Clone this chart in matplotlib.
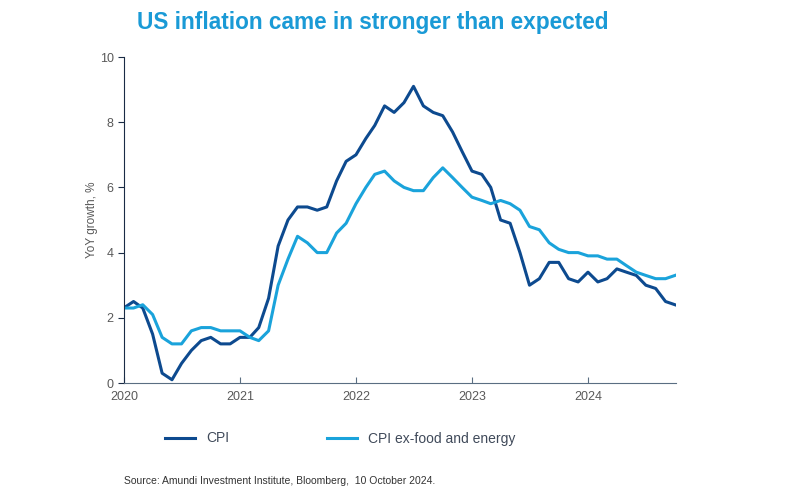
import numpy as np
import pandas as pd
import matplotlib
matplotlib.use('Agg')
import matplotlib.pyplot as plt
import matplotlib.dates as mdates

plt.rcParams['font.family'] = ['Liberation Sans', 'DejaVu Sans']

# monthly YoY, Dec 2019 .. Sep 2024
dates = pd.date_range('2019-12-31', '2024-09-30', freq='ME')
cpi = [2.3,
       2.5, 2.3, 1.5, 0.3, 0.1, 0.6, 1.0, 1.3, 1.4, 1.2, 1.2, 1.4,
       1.4, 1.7, 2.6, 4.2, 5.0, 5.4, 5.4, 5.3, 5.4, 6.2, 6.8, 7.0,
       7.5, 7.9, 8.5, 8.3, 8.6, 9.1, 8.5, 8.3, 8.2, 7.7, 7.1, 6.5,
       6.4, 6.0, 5.0, 4.9, 4.0, 3.0, 3.2, 3.7, 3.7, 3.2, 3.1, 3.4,
       3.1, 3.2, 3.5, 3.4, 3.3, 3.0, 2.9, 2.5, 2.4]
core = [2.3,
        2.3, 2.4, 2.1, 1.4, 1.2, 1.2, 1.6, 1.7, 1.7, 1.6, 1.6, 1.6,
        1.4, 1.3, 1.6, 3.0, 3.8, 4.5, 4.3, 4.0, 4.0, 4.6, 4.9, 5.5,
        6.0, 6.4, 6.5, 6.2, 6.0, 5.9, 5.9, 6.3, 6.6, 6.3, 6.0, 5.7,
        5.6, 5.5, 5.6, 5.5, 5.3, 4.8, 4.7, 4.3, 4.1, 4.0, 4.0, 3.9,
        3.9, 3.8, 3.8, 3.6, 3.4, 3.3, 3.2, 3.2, 3.3]
labels = ['CPI', 'CPI ex-food and energy']

dark = '#0d4a8f'
light = '#1aa3db'
grey = '#595959'

fig = plt.figure(figsize=(8, 5), dpi=100)
ax = fig.add_axes([0.155, 0.234, 0.69, 0.652])
ax.plot(dates, cpi, color=dark, lw=2.2, label=labels[0])
ax.plot(dates, core, color=light, lw=2.2, label=labels[1])

ax.set_xlim(pd.Timestamp('2020-01-01'), pd.Timestamp('2024-10-03'))
ax.set_ylim(0, 10)
ax.set_yticks([0, 2, 4, 6, 8, 10])
ax.xaxis.set_major_locator(mdates.YearLocator())
ax.xaxis.set_major_formatter(mdates.DateFormatter('%Y'))

for s in ['top', 'right']:
    ax.spines[s].set_visible(False)
ax.spines['left'].set_color('#1a2b45')
ax.spines['bottom'].set_color('#5a6e82')
ax.tick_params(axis='y', direction='out', length=4, colors=grey, labelsize=9,
               color='#1a2b45')
ax.tick_params(axis='x', direction='in', length=4, colors=grey, labelsize=9,
               color='#5a6e82', pad=6)
ax.set_ylabel('YoY growth, %', color=grey, fontsize=8.5, labelpad=1)

fig.text(0.466, 0.956, 'US inflation came in stronger than expected',
         ha='center', va='center', fontsize=16.3, fontweight='bold', color='#1a9ad6')

leg = fig.legend(loc='center left', bbox_to_anchor=(0.19, 0.123), ncol=2,
                 frameon=False, fontsize=10, handlelength=2.2, columnspacing=7,
                 labelcolor='#404a5a')
fig.text(0.155, 0.038, 'Source: Amundi Investment Institute, Bloomberg,  10 October 2024.',
         fontsize=7.5, color='#333333', va='center')

fig.savefig('out.png', dpi=100)
